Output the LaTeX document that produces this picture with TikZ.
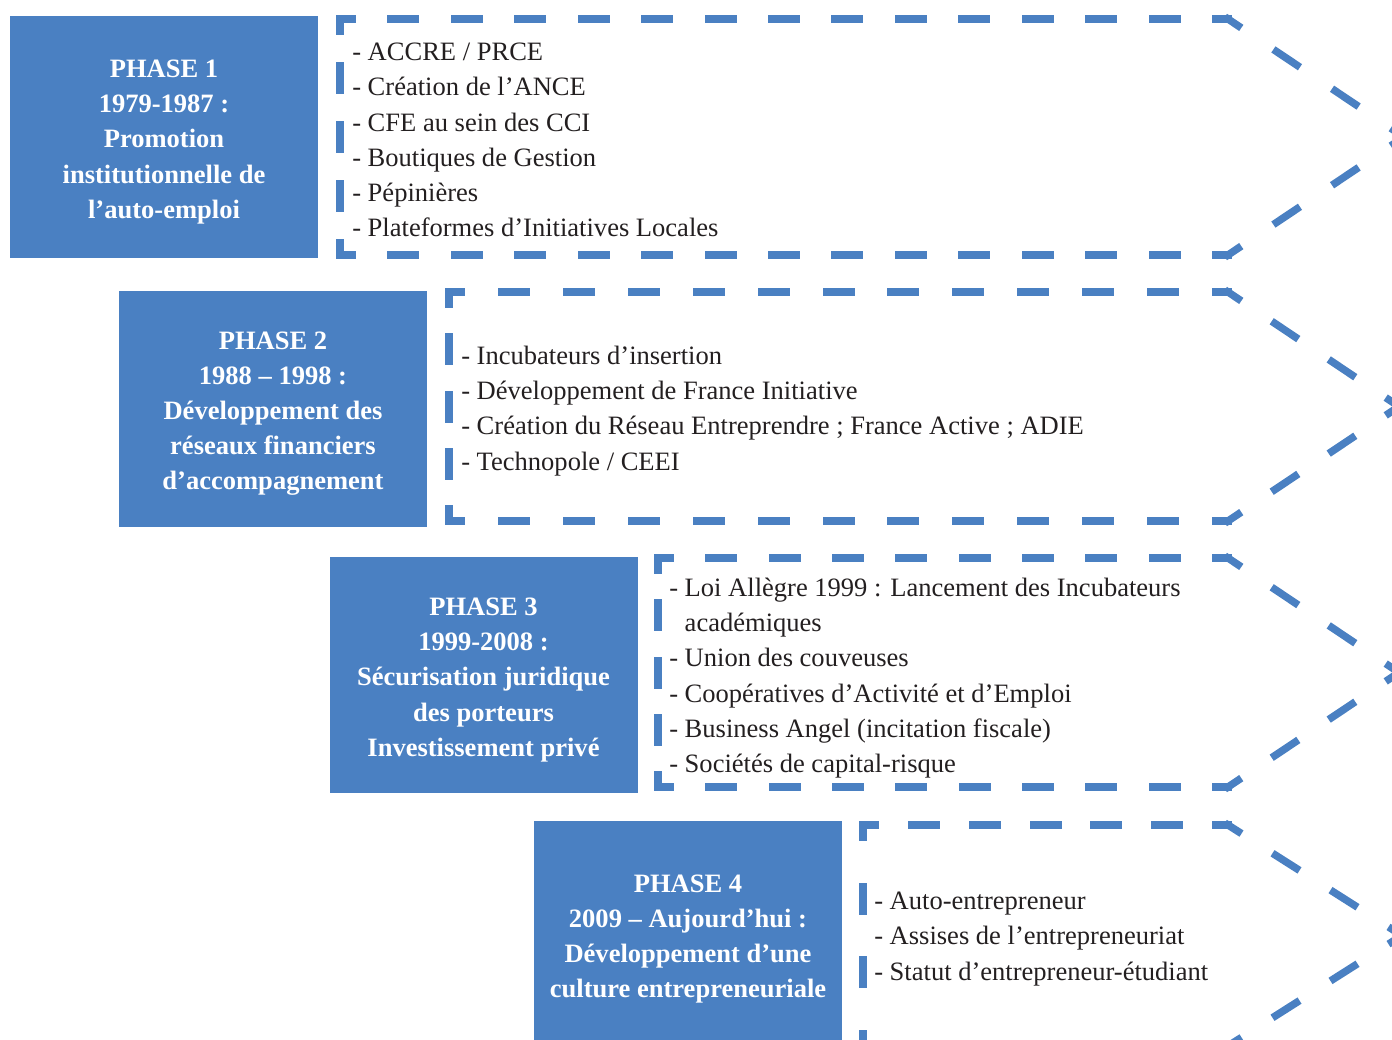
\documentclass[tikz,border=0pt]{standalone}
\usepackage{fontspec}
\setmainfont{Liberation Serif}
\definecolor{pblue}{HTML}{4A80C2}
\definecolor{txt}{HTML}{231F20}
\newcommand\dashon{18.4}
\newcommand\dseg[4]{%
  \pgfmathsetmacro\sgL{veclen(#3-#1,#4-#2)}%
  \pgfmathsetmacro\sgN{max(1,round(\sgL/64))}%
  \pgfmathsetmacro\sgG{\sgL*0.75/\sgN-\dashon}%
  \pgfmathsetmacro\sgH{\dashon/2}%
  \draw[dashline, dash pattern=on \dashon pt off \sgG pt, dash phase=\sgH pt] (#1,#2) -- (#3,#4);}
\newcommand\chevron[5]{% left, top, bottom, corner x, tip x
  \pgfmathsetmacro\chmid{(#2+#3)/2}%
  \dseg{#1}{#2}{#4}{#2}%
  \dseg{#1}{#2}{#1}{#3}%
  \dseg{#1}{#3}{#4}{#3}%
  \dseg{#4}{#2}{#5}{\chmid}%
  \dseg{#4}{#3}{#5}{\chmid}}
\tikzset{
  phasebox/.style={fill=pblue, inner sep=0pt, minimum width=231pt},
  phasetext/.style={text=white, font=\bfseries\fontsize{19.9}{26.3}\selectfont,
    align=center, inner sep=0pt},
  itemtext/.style={text=txt, font=\fontsize{19.9}{26.4}\selectfont, align=left,
    inner sep=0pt, anchor=west},
  dashline/.style={draw=pblue, line width=5.6pt, line cap=rect},
}
\begin{document}
\begin{tikzpicture}[x=0.75pt,y=-0.75pt]
\useasboundingbox (0,0) rectangle (1392,1039);
\clip (0,0) rectangle (1392,1039);
% phase boxes
\node[phasebox, minimum height=181.5pt] (p1) at (164,137) {};
\node[phasebox, minimum height=177pt] (p2) at (273,409) {};
\node[phasebox, minimum height=177pt] (p3) at (483.5,675) {};
\node[phasebox, minimum height=177pt] (p4) at (688,939) {};
\node[phasetext] (t1) at (164,142)
  {PHASE 1\\1979-1987 :\\Promotion\\institutionnelle de\\l’auto-emploi};
\node[phasetext] (t2) at (273,414)
  {PHASE 2\\1988 – 1998 :\\Développement des\\réseaux financiers\\d’accompagnement};
\node[phasetext] (t3) at (483.5,680)
  {PHASE 3\\1999-2008 :\\Sécurisation juridique\\des porteurs\\Investissement privé};
\node[phasetext] (t4) at (688,939)
  {PHASE 4\\2009 – Aujourd’hui :\\Développement d’une\\culture entrepreneuriale};
% dashed chevrons
\chevron{340}{19}{255}{1228}{1404}
\chevron{449}{292}{521}{1228}{1399}
\chevron{658}{558}{787}{1228}{1399}
\chevron{863}{825}{1046}{1228}{1402}
% item lists
\node[itemtext] (i1) at (352,140)
  {- ACCRE / PRCE\\- Création de l’ANCE\\- CFE au sein des CCI\\- Boutiques de Gestion\\- Pépinières\\- Plateformes d’Initiatives Locales};
\node[itemtext] (i2) at (461,411)
  {- Incubateurs d’insertion\\- Développement de France Initiative\\- Création du Réseau Entreprendre ; France Active ; ADIE\\- Technopole / CEEI};
\node[itemtext] (i3) at (669,678)
  {- Loi Allègre 1999 : Lancement des Incubateurs\\\phantom{- }académiques\\- Union des couveuses\\- Coopératives d’Activité et d’Emploi\\- Business Angel (incitation fiscale)\\- Sociétés de capital-risque};
\node[itemtext] (i4) at (874,939)
  {- Auto-entrepreneur\\- Assises de l’entrepreneuriat\\- Statut d’entrepreneur-étudiant};
\end{tikzpicture}
\end{document}
